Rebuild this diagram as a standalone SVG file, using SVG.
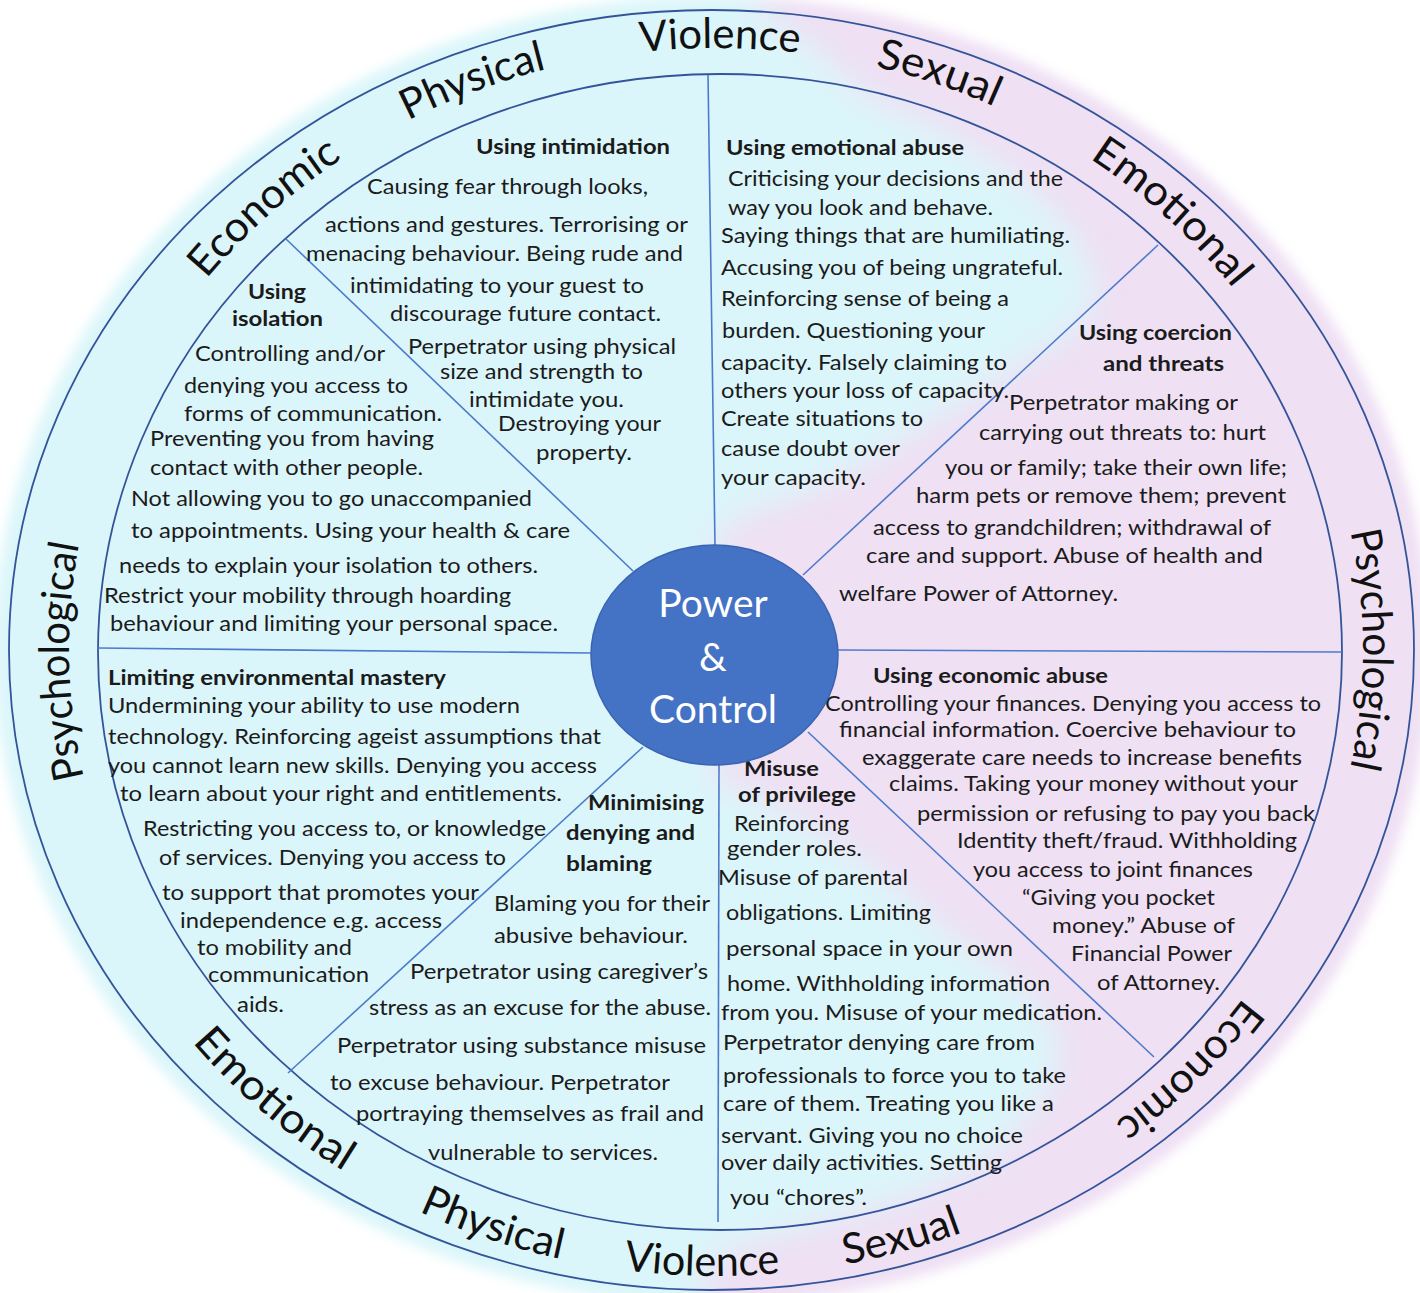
<svg xmlns="http://www.w3.org/2000/svg" width="1420" height="1293" viewBox="0 0 1420 1293">
<style>
.t{font-family:Lato,"Open Sans","Liberation Sans",sans-serif;font-size:21px;fill:#1b1b1b}
.b{font-weight:bold}
.ring{font-family:Lato,"Open Sans","Liberation Sans",sans-serif;font-size:42px;fill:#111}
.rim{fill:none;stroke:#34549a;stroke-width:1.8}
.spoke{stroke:#4d7bcc;stroke-width:1.6;fill:none}
.ctr{font-family:Lato,"Open Sans","Liberation Sans",sans-serif;font-size:39px;fill:#fff;text-anchor:middle}
</style>
<defs>
<filter id="soft" x="-10%" y="-10%" width="120%" height="120%"><feGaussianBlur stdDeviation="6"/></filter>
<filter id="blend" x="-20%" y="-20%" width="140%" height="140%"><feGaussianBlur stdDeviation="16"/></filter>
<mask id="disk"><ellipse cx="712" cy="650" rx="718" ry="654" fill="#fff" filter="url(#soft)"/></mask>
<path id="topArc" d="M 716 1251 A 647 602 0 0 1 69 650 A 647 602 0 0 1 716 48 A 647 602 0 0 1 1363 650 A 647 602 0 0 1 716 1251"/>
<path id="botArc" d="M 44 650 A 672 626 0 0 0 1388 650"/>
</defs>

<g id="background" mask="url(#disk)">
<rect x="-20" y="-20" width="1460" height="1340" fill="#dbf6fa"/>
<path filter="url(#blend)" fill="#efe0f4" d="M 745 -40 L 760 10 L 810 45 L 870 100 L 940 130 L 1020 180 L 1075 235 L 1098 290 L 1075 330 L 1020 362 L 982 390 L 930 420 L 870 460 L 800 495 L 740 515 L 714 540 L 714 780 L 760 800 L 830 840 L 900 890 L 955 940 L 1012 978 L 1052 1022 L 1060 1067 L 1035 1107 L 990 1157 L 900 1200 L 817 1223 L 733 1247 L 705 1273 L 700 1340 L 1460 1340 L 1460 -40 Z"/>
</g>

<g id="rims">
<ellipse class="rim" cx="711.5" cy="650" rx="702.5" ry="640"/>
<ellipse class="rim" cx="720" cy="652" rx="622" ry="578"/>
</g>

<g id="connectors">
<line class="spoke" x1="708" y1="75" x2="715" y2="546"/>
<line class="spoke" x1="286" y1="239" x2="633" y2="571"/>
<line class="spoke" x1="98" y1="648" x2="591" y2="653"/>
<line class="spoke" x1="643" y1="747" x2="288" y2="1073"/>
<line class="spoke" x1="719" y1="764" x2="718" y2="1222"/>
<line class="spoke" x1="808" y1="732" x2="1154" y2="1057"/>
<line class="spoke" x1="838" y1="650" x2="1342" y2="652"/>
<line class="spoke" x1="803" y1="575" x2="1158" y2="245"/>
</g>

<g id="ring-labels" class="ring">
<text text-anchor="middle"><textPath href="#topArc" startOffset="24.7%" textLength="235" lengthAdjust="spacingAndGlyphs">Psychological</textPath></text>
<text text-anchor="middle"><textPath href="#topArc" startOffset="37.6%" textLength="182" lengthAdjust="spacingAndGlyphs">Economic</textPath></text>
<text text-anchor="middle"><textPath href="#topArc" startOffset="43.75%" textLength="148" lengthAdjust="spacingAndGlyphs">Physical</textPath></text>
<text text-anchor="middle"><textPath href="#topArc" startOffset="50.1%" textLength="159" lengthAdjust="spacingAndGlyphs">Violence</textPath></text>
<text text-anchor="middle"><textPath href="#topArc" startOffset="55.7%" textLength="126" lengthAdjust="spacingAndGlyphs">Sexual</textPath></text>
<text text-anchor="middle"><textPath href="#topArc" startOffset="62.55%" textLength="195" lengthAdjust="spacingAndGlyphs">Emotional</textPath></text>
<text text-anchor="middle"><textPath href="#topArc" startOffset="75%" textLength="238" lengthAdjust="spacingAndGlyphs">Psychological</textPath></text>
<text text-anchor="middle"><textPath href="#topArc" startOffset="86.85%" textLength="180" lengthAdjust="spacingAndGlyphs">Economic</textPath></text>
<text text-anchor="middle"><textPath href="#botArc" startOffset="25.9%" textLength="200" lengthAdjust="spacingAndGlyphs">Emotional</textPath></text>
<text text-anchor="middle"><textPath href="#botArc" startOffset="38.65%" textLength="150" lengthAdjust="spacingAndGlyphs">Physical</textPath></text>
<text text-anchor="middle"><textPath href="#botArc" startOffset="49.3%" textLength="157" lengthAdjust="spacingAndGlyphs">Violence</textPath></text>
<text text-anchor="middle"><textPath href="#botArc" startOffset="59.35%" textLength="122" lengthAdjust="spacingAndGlyphs">Sexual</textPath></text>
</g>

<g id="node-intimidation" class="t">
<text class="b" x="476" y="154" textLength="194" lengthAdjust="spacingAndGlyphs">Using intimidation</text>
<text x="367" y="194" textLength="281" lengthAdjust="spacingAndGlyphs">Causing fear through looks,</text>
<text x="325" y="232" textLength="363" lengthAdjust="spacingAndGlyphs">actions and gestures. Terrorising or</text>
<text x="306" y="261" textLength="377" lengthAdjust="spacingAndGlyphs">menacing behaviour. Being rude and</text>
<text x="350" y="293" textLength="294" lengthAdjust="spacingAndGlyphs">intimidating to your guest to</text>
<text x="390" y="321" textLength="271" lengthAdjust="spacingAndGlyphs">discourage future contact.</text>
<text x="408" y="354" textLength="268" lengthAdjust="spacingAndGlyphs">Perpetrator using physical</text>
<text x="440" y="379" textLength="203" lengthAdjust="spacingAndGlyphs">size and strength to</text>
<text x="469" y="407" textLength="155" lengthAdjust="spacingAndGlyphs">intimidate you.</text>
<text x="498" y="431" textLength="163" lengthAdjust="spacingAndGlyphs">Destroying your</text>
<text x="536" y="460" textLength="96" lengthAdjust="spacingAndGlyphs">property.</text>
</g>

<g id="node-isolation" class="t">
<text class="b" x="248" y="299" textLength="58" lengthAdjust="spacingAndGlyphs">Using</text>
<text class="b" x="232" y="326" textLength="91" lengthAdjust="spacingAndGlyphs">isolation</text>
<text x="195" y="361" textLength="190" lengthAdjust="spacingAndGlyphs">Controlling and/or</text>
<text x="184" y="393" textLength="224" lengthAdjust="spacingAndGlyphs">denying you access to</text>
<text x="184" y="421" textLength="258" lengthAdjust="spacingAndGlyphs">forms of communication.</text>
<text x="150" y="446" textLength="284" lengthAdjust="spacingAndGlyphs">Preventing you from having</text>
<text x="150" y="475" textLength="273" lengthAdjust="spacingAndGlyphs">contact with other people.</text>
<text x="131" y="506" textLength="401" lengthAdjust="spacingAndGlyphs">Not allowing you to go unaccompanied</text>
<text x="131" y="538" textLength="439" lengthAdjust="spacingAndGlyphs">to appointments. Using your health &amp; care</text>
<text x="119" y="573" textLength="419" lengthAdjust="spacingAndGlyphs">needs to explain your isolation to others.</text>
<text x="104" y="603" textLength="407" lengthAdjust="spacingAndGlyphs">Restrict your mobility through hoarding</text>
<text x="110" y="631" textLength="448" lengthAdjust="spacingAndGlyphs">behaviour and limiting your personal space.</text>
</g>

<g id="node-emotional" class="t">
<text class="b" x="726" y="155" textLength="238" lengthAdjust="spacingAndGlyphs">Using emotional abuse</text>
<text x="728" y="186" textLength="335" lengthAdjust="spacingAndGlyphs">Criticising your decisions and the</text>
<text x="728" y="215" textLength="265" lengthAdjust="spacingAndGlyphs">way you look and behave.</text>
<text x="721" y="243" textLength="349" lengthAdjust="spacingAndGlyphs">Saying things that are humiliating.</text>
<text x="721" y="275" textLength="342" lengthAdjust="spacingAndGlyphs">Accusing you of being ungrateful.</text>
<text x="721" y="306" textLength="288" lengthAdjust="spacingAndGlyphs">Reinforcing sense of being a</text>
<text x="722" y="338" textLength="263" lengthAdjust="spacingAndGlyphs">burden. Questioning your</text>
<text x="721" y="370" textLength="286" lengthAdjust="spacingAndGlyphs">capacity. Falsely claiming to</text>
<text x="721" y="398" textLength="288" lengthAdjust="spacingAndGlyphs">others your loss of capacity.</text>
<text x="721" y="426" textLength="202" lengthAdjust="spacingAndGlyphs">Create situations to</text>
<text x="721" y="456" textLength="179" lengthAdjust="spacingAndGlyphs">cause doubt over</text>
<text x="721" y="485" textLength="145" lengthAdjust="spacingAndGlyphs">your capacity.</text>
</g>

<g id="node-coercion" class="t">
<text class="b" x="1079" y="340" textLength="153" lengthAdjust="spacingAndGlyphs">Using coercion</text>
<text class="b" x="1103" y="371" textLength="121" lengthAdjust="spacingAndGlyphs">and threats</text>
<text x="1009" y="410" textLength="229" lengthAdjust="spacingAndGlyphs">Perpetrator making or</text>
<text x="979" y="440" textLength="287" lengthAdjust="spacingAndGlyphs">carrying out threats to: hurt</text>
<text x="945" y="475" textLength="342" lengthAdjust="spacingAndGlyphs">you or family; take their own life;</text>
<text x="916" y="503" textLength="370" lengthAdjust="spacingAndGlyphs">harm pets or remove them; prevent</text>
<text x="873" y="535" textLength="398" lengthAdjust="spacingAndGlyphs">access to grandchildren; withdrawal of</text>
<text x="866" y="563" textLength="397" lengthAdjust="spacingAndGlyphs">care and support.  Abuse of health and</text>
<text x="839" y="601" textLength="279" lengthAdjust="spacingAndGlyphs">welfare Power of Attorney.</text>
</g>

<g id="node-environmental" class="t">
<text class="b" x="108" y="685" textLength="338" lengthAdjust="spacingAndGlyphs">Limiting environmental mastery</text>
<text x="108" y="713" textLength="412" lengthAdjust="spacingAndGlyphs">Undermining your ability to use modern</text>
<text x="108" y="744" textLength="493" lengthAdjust="spacingAndGlyphs">technology. Reinforcing ageist assumptions that</text>
<text x="108" y="773" textLength="489" lengthAdjust="spacingAndGlyphs">you cannot learn new skills. Denying you access</text>
<text x="120" y="801" textLength="442" lengthAdjust="spacingAndGlyphs">to learn about your right and entitlements.</text>
<text x="143" y="836" textLength="403" lengthAdjust="spacingAndGlyphs">Restricting you access to, or knowledge</text>
<text x="159" y="865" textLength="347" lengthAdjust="spacingAndGlyphs">of services. Denying you access to</text>
<text x="162" y="900" textLength="317" lengthAdjust="spacingAndGlyphs">to support that promotes your</text>
<text x="180" y="928" textLength="262" lengthAdjust="spacingAndGlyphs">independence e.g. access</text>
<text x="197" y="955" textLength="155" lengthAdjust="spacingAndGlyphs">to mobility and</text>
<text x="208" y="982" textLength="161" lengthAdjust="spacingAndGlyphs">communication</text>
<text x="237" y="1012" textLength="47" lengthAdjust="spacingAndGlyphs">aids.</text>
</g>

<g id="node-minimising" class="t">
<text class="b" x="588" y="810" textLength="116" lengthAdjust="spacingAndGlyphs">Minimising</text>
<text class="b" x="566" y="840" textLength="129" lengthAdjust="spacingAndGlyphs">denying and</text>
<text class="b" x="566" y="871" textLength="86" lengthAdjust="spacingAndGlyphs">blaming</text>
<text x="494" y="911" textLength="216" lengthAdjust="spacingAndGlyphs">Blaming you for their</text>
<text x="494" y="943" textLength="194" lengthAdjust="spacingAndGlyphs">abusive behaviour.</text>
<text x="410" y="979" textLength="298" lengthAdjust="spacingAndGlyphs">Perpetrator using caregiver’s</text>
<text x="369" y="1015" textLength="342" lengthAdjust="spacingAndGlyphs">stress as an excuse for the abuse.</text>
<text x="337" y="1053" textLength="369" lengthAdjust="spacingAndGlyphs">Perpetrator using substance misuse</text>
<text x="330" y="1090" textLength="340" lengthAdjust="spacingAndGlyphs">to excuse behaviour. Perpetrator</text>
<text x="356" y="1121" textLength="348" lengthAdjust="spacingAndGlyphs">portraying themselves as frail and</text>
<text x="428" y="1160" textLength="230" lengthAdjust="spacingAndGlyphs">vulnerable to services.</text>
</g>

<g id="node-economic" class="t">
<text class="b" x="873" y="683" textLength="235" lengthAdjust="spacingAndGlyphs">Using economic abuse</text>
<text x="825" y="711" textLength="496" lengthAdjust="spacingAndGlyphs">Controlling your finances. Denying you access to</text>
<text x="839" y="737" textLength="457" lengthAdjust="spacingAndGlyphs">financial  information. Coercive behaviour to</text>
<text x="862" y="765" textLength="440" lengthAdjust="spacingAndGlyphs">exaggerate care needs to increase benefits</text>
<text x="889" y="791" textLength="409" lengthAdjust="spacingAndGlyphs">claims. Taking your money without your</text>
<text x="917" y="821" textLength="398" lengthAdjust="spacingAndGlyphs">permission or refusing to pay you back</text>
<text x="957" y="848" textLength="340" lengthAdjust="spacingAndGlyphs">Identity theft/fraud. Withholding</text>
<text x="973" y="877" textLength="280" lengthAdjust="spacingAndGlyphs">you access to joint finances</text>
<text x="1022" y="905" textLength="193" lengthAdjust="spacingAndGlyphs">“Giving you pocket</text>
<text x="1052" y="933" textLength="183" lengthAdjust="spacingAndGlyphs">money.” Abuse of</text>
<text x="1071" y="961" textLength="161" lengthAdjust="spacingAndGlyphs">Financial Power</text>
<text x="1097" y="990" textLength="123" lengthAdjust="spacingAndGlyphs">of Attorney.</text>
</g>

<g id="node-privilege" class="t">
<text class="b" x="744" y="776" textLength="75" lengthAdjust="spacingAndGlyphs">Misuse</text>
<text class="b" x="738" y="802" textLength="118" lengthAdjust="spacingAndGlyphs">of privilege</text>
<text x="734" y="831" textLength="115" lengthAdjust="spacingAndGlyphs">Reinforcing</text>
<text x="727" y="856" textLength="135" lengthAdjust="spacingAndGlyphs">gender roles.</text>
<text x="718" y="885" textLength="190" lengthAdjust="spacingAndGlyphs">Misuse of parental</text>
<text x="726" y="920" textLength="205" lengthAdjust="spacingAndGlyphs">obligations. Limiting</text>
<text x="726" y="956" textLength="287" lengthAdjust="spacingAndGlyphs">personal space in your  own</text>
<text x="727" y="991" textLength="323" lengthAdjust="spacingAndGlyphs">home. Withholding information</text>
<text x="721" y="1020" textLength="381" lengthAdjust="spacingAndGlyphs">from you. Misuse of your medication.</text>
<text x="723" y="1050" textLength="312" lengthAdjust="spacingAndGlyphs">Perpetrator denying care from</text>
<text x="723" y="1083" textLength="343" lengthAdjust="spacingAndGlyphs">professionals to force you to take</text>
<text x="723" y="1111" textLength="331" lengthAdjust="spacingAndGlyphs">care of them. Treating you like a</text>
<text x="721" y="1143" textLength="302" lengthAdjust="spacingAndGlyphs">servant. Giving you no choice</text>
<text x="721" y="1170" textLength="281" lengthAdjust="spacingAndGlyphs">over daily activities. Setting</text>
<text x="730" y="1205" textLength="137" lengthAdjust="spacingAndGlyphs">you “chores”.</text>
</g>

<g id="node-center">
<ellipse cx="714.5" cy="655" rx="123.5" ry="110" fill="#4472c4" stroke="#3b64b0" stroke-width="1.5"/>
<text class="ctr" x="713" y="617">Power</text>
<text class="ctr" x="713" y="671">&amp;</text>
<text class="ctr" x="713" y="723">Control</text>
</g>
</svg>
